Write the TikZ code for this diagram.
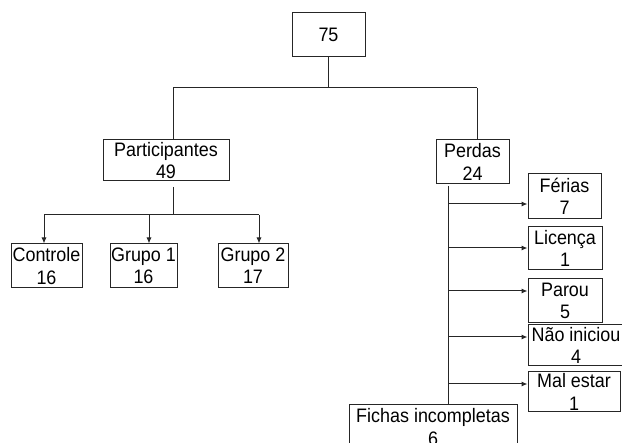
\documentclass[tikz,border=0pt]{standalone}
\usepackage{fontspec}
\setmainfont{Liberation Sans}[FakeStretch=0.92]
\usetikzlibrary{arrows.meta}
\begin{document}
\begin{tikzpicture}[x=1pt,y=-1pt,
  bx/.style={draw=black!85,line width=1pt,inner sep=0pt,align=center,
    font=\fontsize{19.5}{22.3}\selectfont,minimum height=44pt},
  ln/.style={draw=black!85,line width=1pt},
  ar/.style={ln,-{Latex[length=6pt,width=5pt]}}]
\useasboundingbox (0,0) rectangle (622,443);
\clip (0,0) rectangle (622,443);
\fill[white] (0,0) rectangle (622,443);
% nodes
\node[bx,minimum width=73pt] (top) at (328.5,35) {75};
\node[bx,minimum width=126pt,minimum height=41pt] (part) at (166,160.5) {Participantes\\49};
\node[bx,minimum width=73pt] (perd) at (472.5,162) {Perdas\\24};
\node[bx,minimum width=71pt] (ctrl) at (46.5,266) {Controle\\16};
\node[bx,minimum width=67pt] (g1) at (143.5,266) {Grupo 1\\16};
\node[bx,minimum width=70pt] (g2) at (253,266) {Grupo 2\\17};
\node[bx,minimum width=73pt,minimum height=45pt] (fer) at (564.5,196.5) {Férias\\7};
\node[bx,minimum width=74pt,minimum height=43pt] (lic) at (565,248.5) {Licença\\1};
\node[bx,minimum width=74pt] (par) at (565,301) {Parou\\5};
\node[bx,minimum width=96pt,minimum height=41pt] (nao) at (576,345.5) {Não iniciou\\4};
\node[bx,minimum width=92pt,minimum height=40pt] (mal) at (574,392) {Mal estar\\1};
\node[bx,minimum width=168pt] (fic) at (433,427) {Fichas incompletas\\6};
% junction coordinates
\coordinate (j0) at (328.5,88);
\coordinate (jl) at (173,88);
\coordinate (jr) at (477,88);
\coordinate (ps) at (173,187);
\coordinate (pj) at (173,215);
\coordinate (hl) at (44,215);
\coordinate (hm) at (149,215);
\coordinate (hr) at (259,215);
\coordinate (vs) at (448,186);
\coordinate (a1) at (448,204);
\coordinate (a2) at (448,248);
\coordinate (a3) at (448,291);
\coordinate (a4) at (448,337);
\coordinate (a5) at (448,384);
% connectors
\draw[ln] (top.south) -- (j0);
\draw[ln] (jl) -- (jr);
\draw[ln] (jl) -- (jl |- part.north);
\draw[ln] (jr) -- (jr |- perd.north);
\draw[ln] (ps) -- (pj);
\draw[ln] (hl) -- (hr);
\draw[ar] (hl) -- (hl |- ctrl.north);
\draw[ar] (hm) -- (hm |- g1.north);
\draw[ar] (hr) -- (hr |- g2.north);
\draw[ln] (vs) -- (vs |- fic.north);
\draw[ar] (a1) -- (a1 -| fer.west);
\draw[ar] (a2) -- (a2 -| lic.west);
\draw[ar] (a3) -- (a3 -| par.west);
\draw[ar] (a4) -- (a4 -| nao.west);
\draw[ar] (a5) -- (a5 -| mal.west);
\end{tikzpicture}
\end{document}
